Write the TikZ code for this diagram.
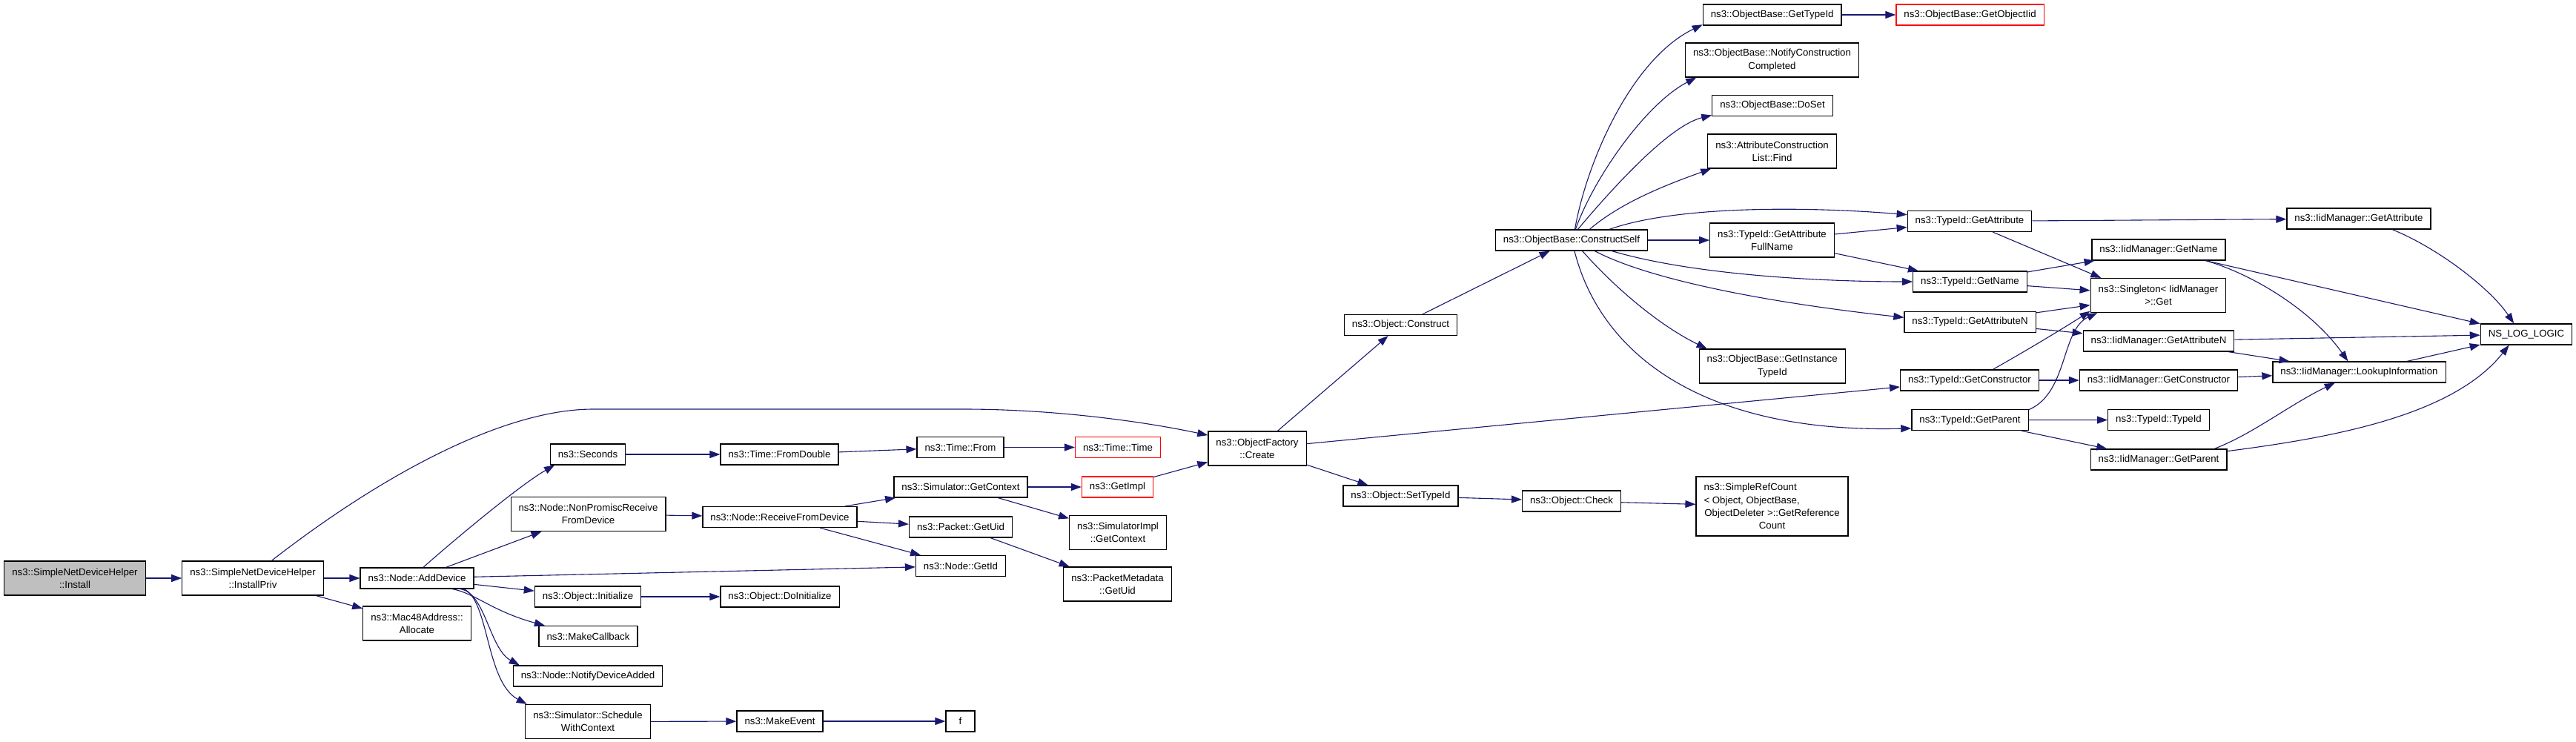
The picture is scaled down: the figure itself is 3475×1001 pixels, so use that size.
\documentclass[tikz,border=0pt]{standalone}
\usepackage{fontspec}
\setmainfont{Liberation Sans}
\usetikzlibrary{arrows.meta}
\definecolor{midblue}{RGB}{25,25,112}
\definecolor{curgray}{RGB}{191,191,191}

\begin{document}
\begin{tikzpicture}[x=1pt,y=-1pt]
\tikzset{fn/.style={draw=black,line width=1.2pt,fill=white,align=center,inner xsep=10.5pt,inner ysep=0pt,minimum height=28pt,font=\fontsize{13.25}{17.3}\selectfont},
two/.style={minimum height=46pt},
cur/.style={fill=curgray},
trunc/.style={draw=red},
call/.style={draw=midblue,line width=1.1pt,-{Triangle[length=14pt,width=10pt]}}}
\useasboundingbox (0,0) rectangle (3475,1001);
\node[fn,cur,two] (Install) at (101,780) {ns3::SimpleNetDeviceHelper\\::Install};
\node[fn,two] (InstallPriv) at (341,780) {ns3::SimpleNetDeviceHelper\\::InstallPriv};
\node[fn] (AddDevice) at (562.5,780) {ns3::Node::AddDevice};
\node[fn,two] (Allocate) at (562.5,841) {ns3::Mac48Address::\\Allocate};
\node[fn] (Seconds) at (793,613) {ns3::Seconds};
\node[fn,two] (NonPromisc) at (793.5,693.5) {ns3::Node::NonPromiscReceive\\FromDevice};
\node[fn] (Initialize) at (793,805) {ns3::Object::Initialize};
\node[fn] (MakeCallback) at (793.5,858.5) {ns3::MakeCallback};
\node[fn] (NotifyAdded) at (793,912) {ns3::Node::NotifyDeviceAdded};
\node[fn,two] (Schedule) at (793,973.5) {ns3::Simulator::Schedule\\WithContext};
\node[fn] (FromDouble) at (1051.5,613) {ns3::Time::FromDouble};
\node[fn] (ReceiveFrom) at (1052,697.5) {ns3::Node::ReceiveFromDevice};
\node[fn] (DoInitialize) at (1052,805) {ns3::Object::DoInitialize};
\node[fn] (MakeEvent) at (1052,973) {ns3::MakeEvent};
\node[fn] (TimeFrom) at (1295.5,603.5) {ns3::Time::From};
\node[fn] (SimGetContext) at (1296,657) {ns3::Simulator::GetContext};
\node[fn] (PacketGetUid) at (1296,711) {ns3::Packet::GetUid};
\node[fn] (NodeGetId) at (1296,763.5) {ns3::Node::GetId};
\node[fn,minimum width=39pt] (f) at (1295.5,973) {f};
\node[fn,trunc] (TimeTime) at (1508,603.5) {ns3::Time::Time};
\node[fn,trunc] (GetImpl) at (1507.5,657) {ns3::GetImpl};
\node[fn,two] (SimImplGetContext) at (1508,718.5) {ns3::SimulatorImpl\\::GetContext};
\node[fn,two] (MetadataGetUid) at (1507.5,788) {ns3::PacketMetadata\\::GetUid};
\node[fn,two] (Create) at (1696,605) {ns3::ObjectFactory\\::Create};
\node[fn] (Construct) at (1889.5,438.5) {ns3::Object::Construct};
\node[fn] (SetTypeId) at (1889.5,669) {ns3::Object::SetTypeId};
\node[fn] (Check) at (2120,676) {ns3::Object::Check};
\node[fn,minimum height=80pt] (RefCount) at (2390.5,683) {\makebox[184pt][l]{ns3::SimpleRefCount}\\\makebox[184pt][l]{< Object, ObjectBase,}\\ObjectDeleter >::GetReference\\Count};
\node[fn] (ConstructSelf) at (2120,324) {ns3::ObjectBase::ConstructSelf};
\node[fn] (ObjGetTypeId) at (2390.7,20) {ns3::ObjectBase::GetTypeId};
\node[fn,two] (NotifyCC) at (2390.5,81) {ns3::ObjectBase::NotifyConstruction\\Completed};
\node[fn] (DoSet) at (2391,142.5) {ns3::ObjectBase::DoSet};
\node[fn,two] (AttrFind) at (2390.5,204) {ns3::AttributeConstruction\\List::Find};
\node[fn,two] (AttrFullName) at (2390.5,324) {ns3::TypeId::GetAttribute\\FullName};
\node[fn,two] (InstanceTypeId) at (2390.7,494) {ns3::ObjectBase::GetInstance\\TypeId};
\node[fn,trunc] (GetObjectIid) at (2657.5,20) {ns3::ObjectBase::GetObjectIid};
\node[fn] (TidGetAttribute) at (2657,298.5) {ns3::TypeId::GetAttribute};
\node[fn] (TidGetName) at (2657.5,380) {ns3::TypeId::GetName};
\node[fn] (TidGetAttributeN) at (2657.5,434.5) {ns3::TypeId::GetAttributeN};
\node[fn] (TidGetConstructor) at (2657,513) {ns3::TypeId::GetConstructor};
\node[fn] (TidGetParent) at (2657.5,566.7) {ns3::TypeId::GetParent};
\node[fn] (IidGetName) at (2912,337) {ns3::IidManager::GetName};
\node[fn,two] (SingletonGet) at (2911.5,398.5) {ns3::Singleton< IidManager\\>::Get};
\node[fn] (IidGetAttributeN) at (2912,460) {ns3::IidManager::GetAttributeN};
\node[fn] (IidGetConstructor) at (2912,513) {ns3::IidManager::GetConstructor};
\node[fn] (TidTypeId) at (2912,566.5) {ns3::TypeId::TypeId};
\node[fn] (IidGetParent) at (2912,620) {ns3::IidManager::GetParent};
\node[fn] (IidGetAttribute) at (3182,295) {ns3::IidManager::GetAttribute};
\node[fn] (Lookup) at (3182.5,502) {ns3::IidManager::LookupInformation};
\node[fn] (NsLogLogic) at (3408,451) {NS\_LOG\_LOGIC};
\draw[call] (Install) -- (InstallPriv);
\draw[call] (InstallPriv) -- (AddDevice);
\draw[call] (InstallPriv) -- (Allocate);
\draw[call] (InstallPriv.43) .. controls (516,640) and (680,552) .. (800,552) -- (1300,552) .. controls (1420,552) and (1540,568) .. (Create.165);
\draw[call] (AddDevice.60) .. controls (605,735) and (700,655) .. (Seconds.198);
\draw[call] (AddDevice) -- (NonPromisc);
\draw[call] (AddDevice) -- (NodeGetId);
\draw[call] (AddDevice) -- (Initialize);
\draw[call] (AddDevice.-17) .. controls (640,800) and (665,825) .. (MakeCallback.166);
\draw[call] (AddDevice.-14) .. controls (655,800) and (660,875) .. (NotifyAdded.171);
\draw[call] (AddDevice.-13) .. controls (660,810) and (655,920) .. (Schedule.164);
\draw[call] (Seconds) -- (FromDouble);
\draw[call] (FromDouble) -- (TimeFrom);
\draw[call] (TimeFrom) -- (TimeTime);
\draw[call] (NonPromisc) -- (ReceiveFrom);
\draw[call] (ReceiveFrom) -- (SimGetContext);
\draw[call] (ReceiveFrom) -- (PacketGetUid);
\draw[call] (ReceiveFrom) -- (NodeGetId);
\draw[call] (SimGetContext) -- (GetImpl);
\draw[call] (SimGetContext) -- (SimImplGetContext);
\draw[call] (PacketGetUid) -- (MetadataGetUid);
\draw[call] (GetImpl) -- (Create);
\draw[call] (Initialize) -- (DoInitialize);
\draw[call] (Schedule) -- (MakeEvent);
\draw[call] (MakeEvent) -- (f);
\draw[call] (Create) -- (Construct);
\draw[call] (Create) -- (SetTypeId);
\draw[call] (Create) -- (TidGetConstructor);
\draw[call] (SetTypeId) -- (Check);
\draw[call] (Check) -- (RefCount);
\draw[call] (Construct) -- (ConstructSelf);
\draw[call] (ConstructSelf.73) .. controls (2140,220) and (2200,80) .. (ObjGetTypeId.188);
\draw[call] (ConstructSelf.70) .. controls (2150,240) and (2220,140) .. (NotifyCC.193);
\draw[call] (ConstructSelf.60) .. controls (2170,260) and (2250,170) .. (DoSet.189);
\draw[call] (ConstructSelf.31) .. controls (2190,270) and (2260,245) .. (AttrFind.196);
\draw[call] (ConstructSelf.16) .. controls (2260,278) and (2430,278) .. (TidGetAttribute.174);
\draw[call] (ConstructSelf) -- (AttrFullName);
\draw[call] (ConstructSelf.-15) .. controls (2280,370) and (2450,380) .. (TidGetName.west);
\draw[call] (ConstructSelf.-25) .. controls (2230,380) and (2400,410) .. (TidGetAttributeN.176);
\draw[call] (ConstructSelf.-45) .. controls (2180,390) and (2240,440) .. (InstanceTypeId.165);
\draw[call] (ConstructSelf.-75) .. controls (2160,480) and (2300,585) .. (TidGetParent.188);
\draw[call] (ObjGetTypeId) -- (GetObjectIid);
\draw[call] (AttrFullName) -- (TidGetAttribute);
\draw[call] (AttrFullName) -- (TidGetName);
\draw[call] (TidGetAttribute) -- (IidGetAttribute);
\draw[call] (TidGetAttribute.-25) -- (SingletonGet.163);
\draw[call] (TidGetName) -- (IidGetName);
\draw[call] (TidGetName) -- (SingletonGet);
\draw[call] (TidGetAttributeN) -- (SingletonGet);
\draw[call] (TidGetAttributeN) -- (IidGetAttributeN);
\draw[call] (TidGetConstructor.25) .. controls (2730,475) and (2780,445) .. (SingletonGet.193);
\draw[call] (TidGetConstructor) -- (IidGetConstructor);
\draw[call] (TidGetParent.10) .. controls (2790,530) and (2780,445) .. (SingletonGet.196);
\draw[call] (TidGetParent) -- (TidTypeId);
\draw[call] (TidGetParent) -- (IidGetParent);
\draw[call] (IidGetAttribute.-18) .. controls (3290,335) and (3360,390) .. (NsLogLogic.139);
\draw[call] (IidGetName) -- (NsLogLogic);
\draw[call] (IidGetName.-13) .. controls (3040,370) and (3120,420) .. (Lookup.136);
\draw[call] (IidGetAttributeN) -- (NsLogLogic);
\draw[call] (IidGetAttributeN) -- (Lookup);
\draw[call] (IidGetConstructor) -- (Lookup);
\draw[call] (IidGetParent.11) .. controls (3040,585) and (3090,545) .. (Lookup.204);
\draw[call] (IidGetParent.7) .. controls (3150,590) and (3310,560) .. (NsLogLogic.212);
\draw[call] (Lookup) -- (NsLogLogic);
\end{tikzpicture}
\end{document}
